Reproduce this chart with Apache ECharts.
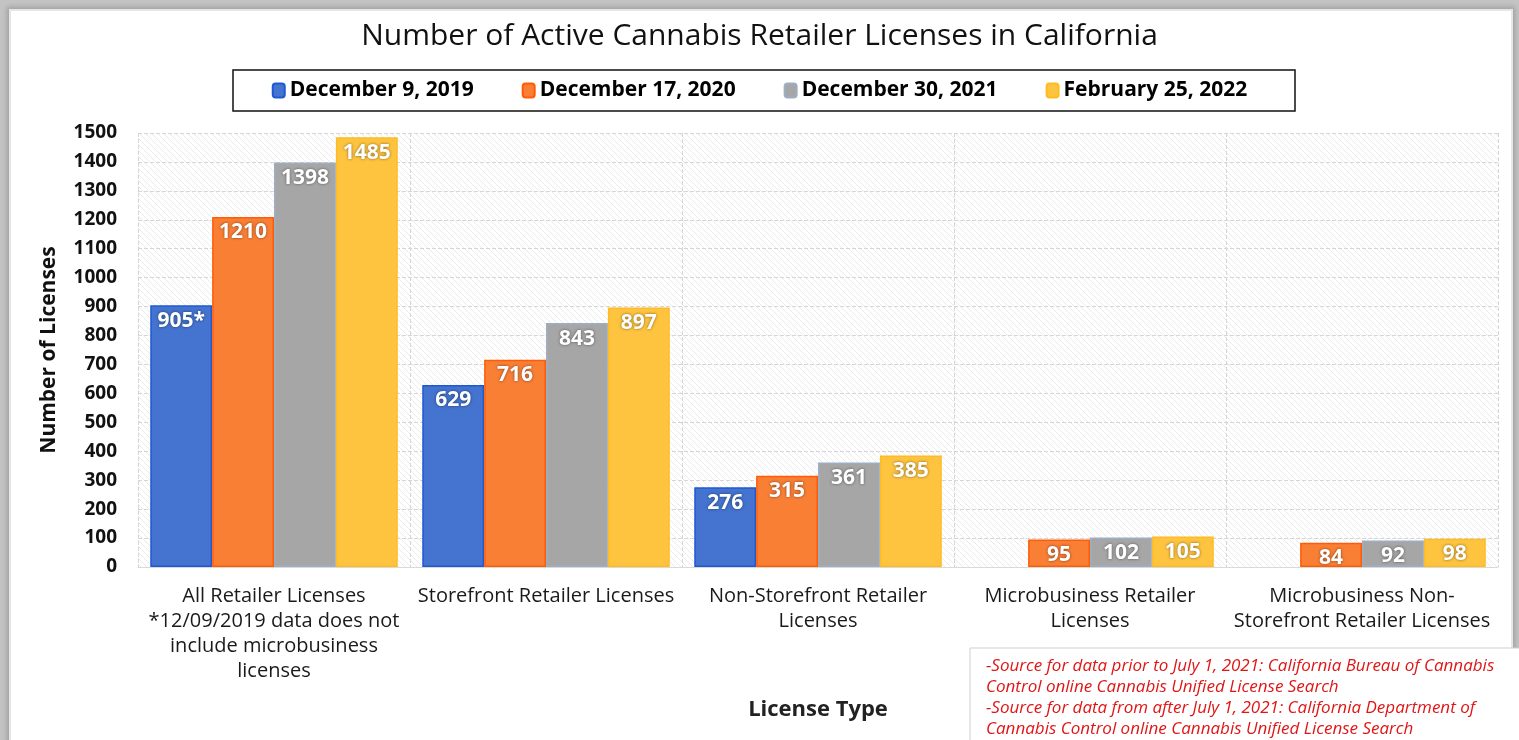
<!DOCTYPE html>
<html>
<head>
<meta charset="utf-8">
<title>Number of Active Cannabis Retailer Licenses in California</title>
<script src="https://cdn.jsdelivr.net/npm/echarts@6/dist/echarts.min.js"></script>
<style>
    html, body { margin: 0; padding: 0; }
    body { width: 1519px; height: 740px; background: #c3c3c3; position: relative; overflow: hidden; }
    .frame {
        position: absolute; left: 9px; top: 9px; width: 1500px; height: 760px;
        background: #fff; border: 2px solid #e6e6e6;
        box-shadow: 0 0 5px 2px rgba(0,0,0,0.18);
    }
    #chart { position: absolute; left: 0; top: 0; width: 1519px; height: 740px; }
</style>
</head>
<body>
<div class="frame"></div>
<div id="chart"></div>
<script>
    // 数据
    var categories = [
        'All Retailer Licenses\n*12/09/2019 data does not\ninclude microbusiness\nlicenses',
        'Storefront Retailer Licenses',
        'Non-Storefront Retailer\nLicenses',
        'Microbusiness Retailer\nLicenses',
        'Microbusiness Non-\nStorefront Retailer Licenses'
    ];
    var seriesNames = ['December 9, 2019', 'December 17, 2020', 'December 30, 2021', 'February 25, 2022'];
    var dec2019 = [905, 629, 276, null, null];
    var dec2020 = [1210, 716, 315, 95, 84];
    var dec2021 = [1398, 843, 361, 102, 92];
    var feb2022 = [1485, 897, 385, 105, 98];
    var dec2019Marks = ['*', '', '', '', ''];   // 905* 脚注
    var sourceLines = [
        '-Source for data prior to July 1, 2021: California Bureau of Cannabis',
        'Control online Cannabis Unified License Search',
        '-Source for data from after July 1, 2021: California Department of',
        'Cannabis Control online Cannabis Unified License Search'
    ];

    var font = '"Open Sans", "Noto Sans", sans-serif';
    var fills = ['#4474cf', '#f97f35', '#a6a6a6', '#fec43f'];
    var edges = ['#1f58d4', '#ff5c05', '#9cadc4', '#ffbb22'];

    // 背景斜线
    function hatch() {
        var c = document.createElement('canvas');
        c.width = 6; c.height = 6;
        var ctx = c.getContext('2d');
        ctx.fillStyle = '#ffffff';
        ctx.fillRect(0, 0, 6, 6);
        ctx.strokeStyle = '#ebebeb';
        ctx.lineWidth = 1;
        ctx.beginPath();
        ctx.moveTo(-1, -1); ctx.lineTo(7, 7);
        ctx.moveTo(-1, 5); ctx.lineTo(1, 7);
        ctx.moveTo(5, -1); ctx.lineTo(7, 1);
        ctx.stroke();
        return c;
    }

    function makeSeries(i, data, marks) {
        return {
            name: seriesNames[i],
            type: 'bar',
            data: data,
            barGap: 0,
            barCategoryGap: '9%',
            itemStyle: { color: fills[i], borderColor: edges[i], borderWidth: 1.5 },
            label: {
                show: true,
                position: 'insideTop',
                distance: 5,
                color: '#fff',
                fontFamily: font,
                fontWeight: 'bold',
                fontSize: 21,
                textShadowColor: 'rgba(0,0,0,0.5)',
                textShadowBlur: 3,
                formatter: function (p) {
                    return p.value + (marks ? marks[p.dataIndex] : '');
                }
            }
        };
    }

    var myChart = echarts.init(document.getElementById('chart'));

    var option = {
        backgroundColor: 'transparent',
        textStyle: { fontFamily: font },
        title: {
            text: 'Number of Active Cannabis Retailer Licenses in California',
            left: 'center',
            top: 16,
            textStyle: { fontFamily: font, fontSize: 30, fontWeight: 'normal', color: '#111' }
        },
        legend: {
            top: 80,
            left: 'center',
            itemWidth: 12,
            itemHeight: 14,
            itemGap: 48,
            padding: 0,
            textStyle: { fontFamily: font, fontSize: 21, fontWeight: 'bold', color: '#000' }
        },
        grid: {
            left: 138,
            right: 21,
            top: 133,
            bottom: 173,
            show: true,
            borderWidth: 0,
            backgroundColor: { image: hatch(), repeat: 'repeat' }
        },
        xAxis: {
            type: 'category',
            data: categories,
            name: 'License Type',
            nameLocation: 'middle',
            nameGap: 132,
            nameTextStyle: { fontFamily: font, fontSize: 22, fontWeight: 'bold', color: '#222' },
            axisLine: { lineStyle: { color: '#d9d9d9' } },
            axisTick: { show: false },
            axisLabel: {
                interval: 0,
                margin: 17,
                lineHeight: 25,
                fontFamily: font,
                fontSize: 20,
                color: '#1a1a1a'
            },
            splitLine: { show: true, interval: 0, lineStyle: { color: '#d6d6d6', type: 'dashed' } }
        },
        yAxis: {
            type: 'value',
            min: 0,
            max: 1500,
            interval: 100,
            name: 'Number of Licenses',
            nameLocation: 'middle',
            nameGap: 78,
            nameTextStyle: { fontFamily: font, fontSize: 21, fontWeight: 'bold', color: '#111' },
            axisLine: { show: false },
            axisTick: { show: false },
            axisLabel: {
                margin: 21,
                fontFamily: font,
                fontSize: 19,
                fontWeight: 'bold',
                color: '#111',
                formatter: function (v) { return String(v); }
            },
            splitLine: { lineStyle: { color: '#d6d6d6', type: 'dashed' } }
        },
        graphic: [
            {
                type: 'rect',
                shape: { x: 233, y: 70, width: 1062, height: 41 },
                style: { fill: 'none', stroke: '#111', lineWidth: 1.5 },
                silent: true
            },
            {
                type: 'rect',
                shape: { x: 970, y: 648, width: 570, height: 110 },
                style: { fill: '#fff', stroke: '#cfcfcf', lineWidth: 1 },
                z: 10,
                silent: true
            },
            {
                type: 'text',
                x: 986,
                y: 656,
                z: 11,
                style: {
                    text: sourceLines.join('\n'),
                    font: 'italic 17px ' + font,
                    fill: '#e01616',
                    lineHeight: 21
                },
                silent: true
            }
        ],
        series: [
            makeSeries(0, dec2019, dec2019Marks),
            makeSeries(1, dec2020),
            makeSeries(2, dec2021),
            makeSeries(3, feb2022)
        ]
    };

    myChart.setOption(option);
</script>
</body>
</html>
